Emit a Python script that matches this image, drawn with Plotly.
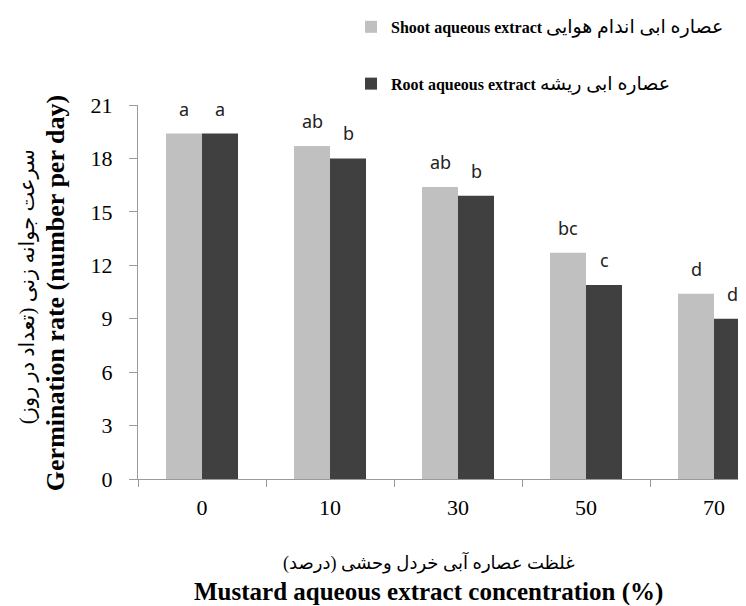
import plotly.graph_objects as go

categories = ["0", "10", "30", "50", "70"]
shoot_values = [19.4, 18.7, 16.4, 12.7, 10.4]
root_values = [19.4, 18.0, 15.9, 10.9, 9.0]
shoot_letters = ["a", "ab", "ab", "bc", "d"]
root_letters = ["a", "b", "b", "c", "d"]
y_ticks = [0, 3, 6, 9, 12, 15, 18, 21]

shoot_en = "Shoot aqueous extract"
shoot_fa = "عصاره ابی اندام هوایی"
root_en = "Root aqueous extract"
root_fa = "عصاره ابی ریشه"
y_title_en = "Germination rate (number per day)"
y_title_fa = "سرعت جوانه زنی (تعداد در روز)\u200f"
x_title_en = "Mustard aqueous extract concentration (%)"
x_title_fa = "غلظت عصاره آبی خردل وحشی (درصد)\u200f"

SERIF = "Liberation Serif, DejaVu Sans, serif"
AXIS_GRAY = "#9a9a9a"

# the page body has an 8px margin: reference pixel (X, Y) -> figure pixel (X-8, Y-8)
OFF = 8
FIG_W, FIG_H = 746 - OFF, 606 - OFF
L, R, T, B = 138 - OFF, 746 - OFF, 105 - OFF, 478.7 - OFF
W = R - L
H = B - T
CAT_PX = 128.0


def px(x_ref):
    return (x_ref - OFF - L) / W


def py(y_ref):
    return (B - (y_ref - OFF)) / H


def legend_name(en, fa):
    return "<b>" + en + "</b> <span style='font-size:19px'>" + fa + "</span>"


fig = go.Figure()
fig.add_trace(go.Bar(x=categories, y=shoot_values, name=legend_name(shoot_en, shoot_fa),
                     marker=dict(color="#c0c0c0", line=dict(width=0)),
                     legendgroup="shoot"))
fig.add_trace(go.Bar(x=categories, y=root_values, name=legend_name(root_en, root_fa),
                     marker=dict(color="#404040", line=dict(width=0)),
                     legendgroup="root"))

letter_font = dict(family="Noto Sans, sans-serif", size=18, color="#222")
annotations = []
for i, (v, t) in enumerate(zip(shoot_values, shoot_letters)):
    annotations.append(dict(x=i, y=v, text=t, xref="x", yref="y", showarrow=False,
                            xshift=-18, yshift=25, yanchor="middle", font=letter_font))
for i, (v, t) in enumerate(zip(root_values, root_letters)):
    annotations.append(dict(x=i, y=v, text=t, xref="x", yref="y", showarrow=False,
                            xshift=18, yshift=25, yanchor="middle", font=letter_font))

annotations += [
    dict(x=px(55), y=py(293), xref="paper", yref="paper", text="<b>" + y_title_en + "</b>",
         textangle=-90, showarrow=False, xanchor="center", yanchor="middle",
         font=dict(family=SERIF, size=26, color="black")),
    dict(x=px(27), y=py(287), xref="paper", yref="paper", text=y_title_fa, textangle=-90,
         showarrow=False, xanchor="center", yanchor="middle",
         font=dict(family=SERIF, size=21, color="black")),
    dict(x=px(429), y=py(562), xref="paper", yref="paper", text=x_title_fa,
         showarrow=False, xanchor="center", yanchor="middle",
         font=dict(family=SERIF, size=18, color="black")),
    dict(x=px(428), y=py(592), xref="paper", yref="paper", text="<b>" + x_title_en + "</b>",
         showarrow=False, xanchor="center", yanchor="middle",
         font=dict(family=SERIF, size=25, color="black")),
]

fig.update_layout(
    width=FIG_W, height=FIG_H,
    margin=dict(l=L, r=FIG_W - R, t=T, b=FIG_H - B, autoexpand=False),
    paper_bgcolor="white", plot_bgcolor="white",
    barmode="group", bargap=0.4375, bargroupgap=0,
    showlegend=True,
    legend=dict(x=px(351), y=py(10), xanchor="left", yanchor="top",
                traceorder="grouped", tracegroupgap=33,
                font=dict(family=SERIF, size=16, color="black"),
                bgcolor="rgba(0,0,0,0)"),
    annotations=annotations,
    xaxis=dict(type="category", range=[-0.5, -0.5 + W / CAT_PX],
               showline=True, linecolor=AXIS_GRAY, linewidth=1,
               ticks="outside", tickson="boundaries", ticklen=7, tickcolor=AXIS_GRAY,
               showgrid=False, zeroline=False, ticklabelstandoff=9,
               tickfont=dict(family=SERIF, size=22, color="black")),
    yaxis=dict(range=[0, 21], tickvals=y_ticks, showline=True, linecolor=AXIS_GRAY,
               linewidth=1, ticks="outside", ticklen=8, tickcolor=AXIS_GRAY,
               showgrid=False, zeroline=False, ticklabelstandoff=12,
               tickfont=dict(family=SERIF, size=22, color="black")),
)

fig.write_html("out.html")
